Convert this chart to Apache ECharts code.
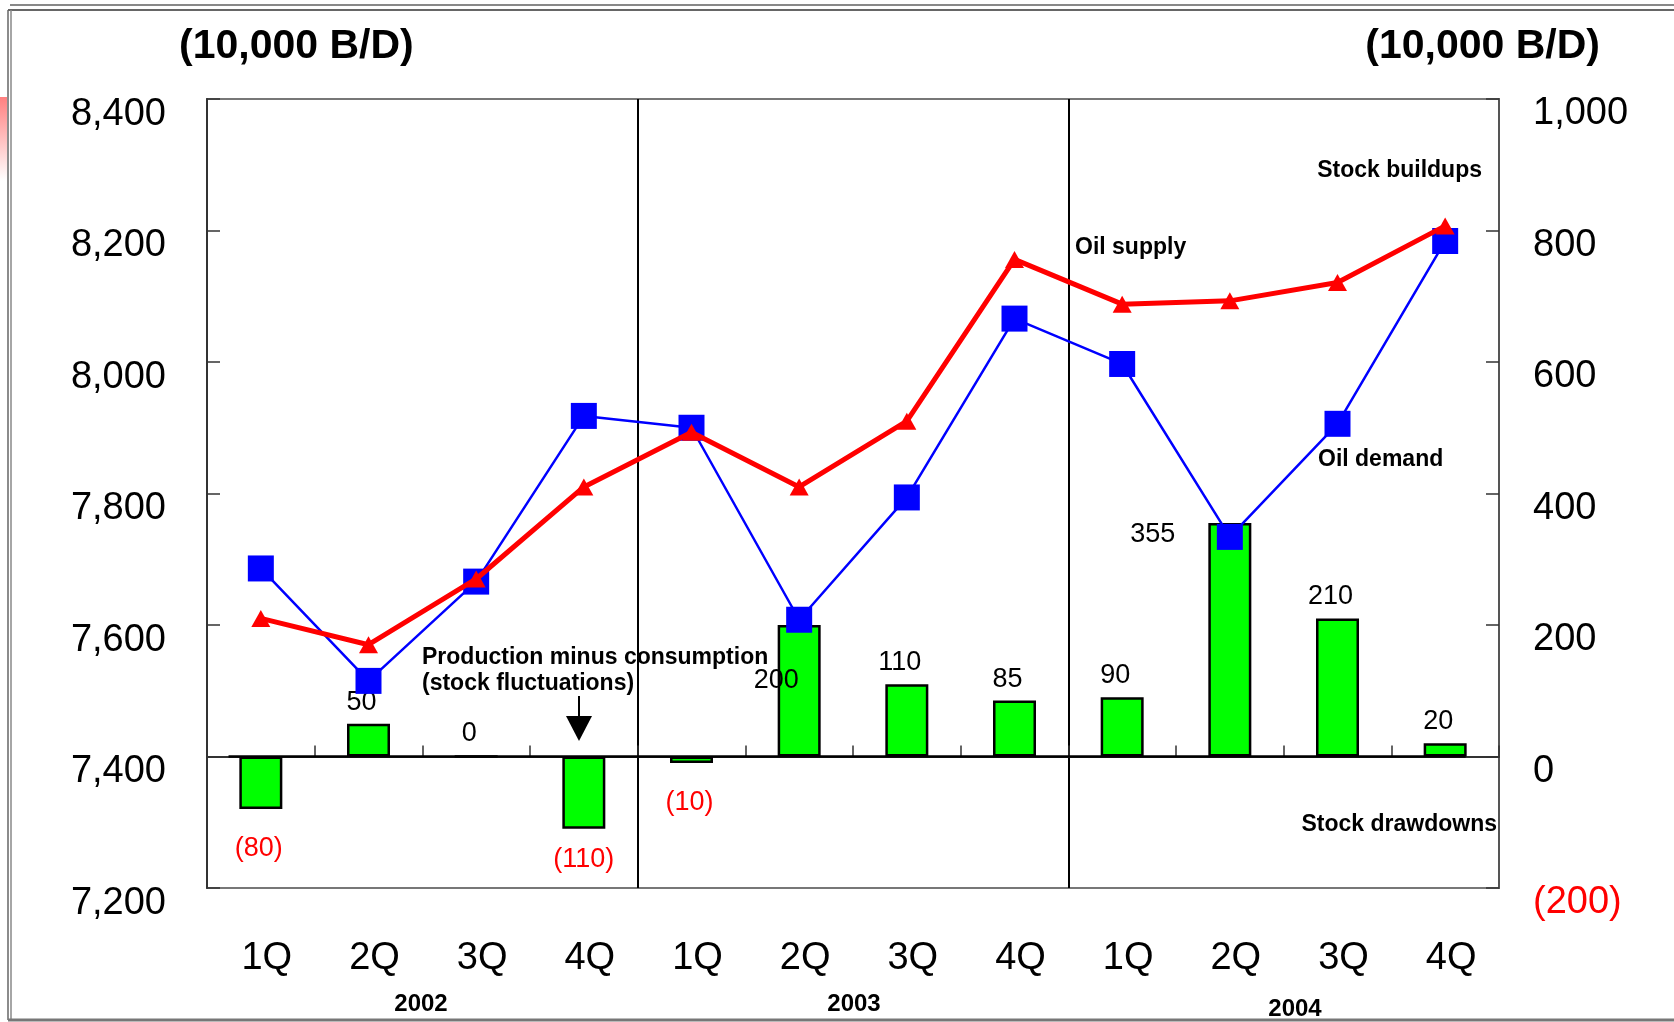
<!DOCTYPE html>
<html><head><meta charset="utf-8">
<script src="https://cdn.jsdelivr.net/npm/echarts@6/dist/echarts.min.js"></script>
<style>html,body{margin:0;padding:0;background:#fff}#c{width:1674px;height:1022px}</style>
</head><body><div id="c"></div>
<script>
// ---- data ----
const categories = ['1Q','2Q','3Q','4Q','1Q','2Q','3Q','4Q','1Q','2Q','3Q','4Q'];
const years = ['2002','2003','2004'];
const oilSupply = [7610, 7570, 7670, 7810, 7893, 7810, 7910, 8156, 8088, 8093, 8121, 8207];
const oilDemand = [7686, 7515, 7666, 7918, 7900, 7608, 7794, 8066, 7997, 7734, 7906, 8184];
const stockChange = [-80, 50, 0, -110, -10, 200, 110, 85, 90, 355, 210, 20];
const leftMin = 7200, leftMax = 8400, leftStep = 200;
const rightMin = -200, rightMax = 1000, rightStep = 200;
const unitLabel = '(10,000 B/D)';

const FF = '"Liberation Sans", Arial, Helvetica, sans-serif';
const chart = echarts.init(document.getElementById('c'), null, {renderer: 'canvas'});

const barData = stockChange.map((v) => {
  const neg = v < 0;
  return {
    value: v,
    label: {
      show: true,
      position: neg ? 'bottom' : 'top',
      distance: neg ? 24 : 8,
      offset: neg ? [-2, 2] : [-7, 0],
      color: neg ? '#ff0000' : '#000000',
      fontSize: 27,
      fontFamily: FF,
      formatter: neg ? '(' + Math.abs(v) + ')' : String(v)
    }
  };
});
// hand-placed labels as in the original slide
barData[5].label.offset = [-23, 77];
barData[9].label.offset = [-77, 33];
barData[3].label.offset = [0, -7];

const fmt = (v) => v.toLocaleString('en-US');

const option = {
  animation: false,
  backgroundColor: '#ffffff',
  grid: {left: 207, top: 99, width: 1292, height: 789, show: true, borderColor: '#777', borderWidth: 2, containLabel: false},
  xAxis: [{
    type: 'category', data: categories, position: 'bottom',
    axisLine: {show: true, lineStyle: {color: '#333', width: 2}},
    axisTick: {show: true, inside: true, length: 11, lineStyle: {color: '#333', width: 1.5}},
    axisLabel: {fontSize: 38, color: '#000', margin: 52, fontFamily: FF, padding: [0, 0, 0, 12]},
    splitLine: {show: true, interval: (i) => i === 4 || i === 8, lineStyle: {color: '#000', width: 2}}
  }],
  yAxis: [{
    type: 'value', min: leftMin, max: leftMax, interval: leftStep, position: 'left',
    axisLine: {show: true, lineStyle: {color: '#333', width: 2}},
    axisTick: {show: true, inside: true, length: 13, lineStyle: {color: '#333', width: 1.5}},
    splitLine: {show: false},
    axisLabel: {fontSize: 38, color: '#000', margin: 41, fontFamily: FF, formatter: fmt,
      verticalAlign: 'top', lineHeight: 31}
  }, {
    type: 'value', min: rightMin, max: rightMax, interval: rightStep, position: 'right',
    axisLine: {show: true, lineStyle: {color: '#555', width: 2}},
    axisTick: {show: true, inside: true, length: 13, lineStyle: {color: '#333', width: 1.5}},
    splitLine: {show: false},
    axisLabel: {fontSize: 38, color: '#000', margin: 34, fontFamily: FF,
      verticalAlign: 'top', lineHeight: 30,
      formatter: (v) => v < 0 ? '{r|(' + Math.abs(v) + ')}' : fmt(v),
      rich: {r: {color: '#ff0000', fontSize: 38, fontFamily: FF, lineHeight: 30}}}
  }],
  series: [{
    name: 'Production minus consumption', type: 'bar', yAxisIndex: 1, data: barData,
    barWidth: 43, z: 2,
    itemStyle: {color: '#00ff00', borderColor: '#000', borderWidth: 2.5}
  }, {
    name: 'Oil demand', type: 'line', yAxisIndex: 0, data: oilDemand, z: 3,
    symbol: 'rect', symbolSize: 26, showAllSymbol: true,
    lineStyle: {color: '#0000ff', width: 2.5}, itemStyle: {color: '#0000ff'}
  }, {
    name: 'Oil supply', type: 'line', yAxisIndex: 0, data: oilSupply, z: 4,
    symbol: 'triangle', symbolSize: [19, 17], showAllSymbol: true,
    lineStyle: {color: '#ff0000', width: 5}, itemStyle: {color: '#ff0000'}
  }]
};
chart.setOption(option);

// ---- annotations ----
function txt(text, x, y, size, bold, align, color) {
  return {type: 'text', x: x, y: y, z: 100, silent: true,
    style: {text: text, font: (bold ? 'bold ' : '') + size + 'px ' + FF, fill: color || '#000',
      align: align || 'left', verticalAlign: 'middle', textAlign: align || 'left', textVerticalAlign: 'middle'}};
}
const c0 = chart.convertToPixel({xAxisIndex: 0, yAxisIndex: 1}, [0, 0]);
const c11 = chart.convertToPixel({xAxisIndex: 0, yAxisIndex: 1}, [11, 0]);
const cw = (c11[0] - c0[0]) / 11;

const graphics = [
  // outer slide frame
  {type: 'line', shape: {x1: 10, y1: 5, x2: 1674, y2: 5}, style: {stroke: '#888', lineWidth: 2}},
  {type: 'line', shape: {x1: 8, y1: 10, x2: 1674, y2: 10}, style: {stroke: '#666', lineWidth: 2}},
  {type: 'line', shape: {x1: 8, y1: 10, x2: 8, y2: 1020}, style: {stroke: '#666', lineWidth: 1.5}},
  {type: 'line', shape: {x1: 11, y1: 10, x2: 11, y2: 1020}, style: {stroke: '#888', lineWidth: 1.5}},
  {type: 'line', shape: {x1: 8, y1: 1020, x2: 1674, y2: 1020}, style: {stroke: '#777', lineWidth: 3}},
  {type: 'rect', shape: {x: 0, y: 97, width: 7, height: 84},
    style: {fill: new echarts.graphic.LinearGradient(0, 0, 0, 1, [{offset: 0, color: '#ff8080'}, {offset: 1, color: '#ffffff'}])}},
  // zero line
  {type: 'line', z: 50, shape: {x1: c0[0] - 0.3 * cw, y1: c0[1], x2: c11[0] + 0.19 * cw, y2: c0[1]}, style: {stroke: '#000', lineWidth: 2.5}},
  // arrow
  {type: 'line', z: 50, shape: {x1: 579, y1: 696, x2: 579, y2: 725}, style: {stroke: '#000', lineWidth: 2}},
  {type: 'polygon', z: 50, shape: {points: [[566, 716], [592, 716], [579, 741]]}, style: {fill: '#000'}},
  // texts
  txt(unitLabel, 179, 47, 41, true),
  txt(unitLabel, 1600, 47, 41, true, 'right'),
  txt('Stock buildups', 1482, 171, 23, true, 'right'),
  txt('Oil supply', 1075, 248, 23, true),
  txt('Oil demand', 1318, 460, 23, true),
  txt('Stock drawdowns', 1497, 825, 23, true, 'right'),
  txt('Production minus consumption', 422, 658, 23, true),
  txt('(stock fluctuations)', 422, 684, 23, true),
  txt(years[0], 421, 1004, 24, true, 'center'),
  txt(years[1], 854, 1004, 24, true, 'center'),
  txt(years[2], 1295, 1009, 24, true, 'center')
];
chart.setOption({graphic: {elements: graphics}});
</script></body></html>
